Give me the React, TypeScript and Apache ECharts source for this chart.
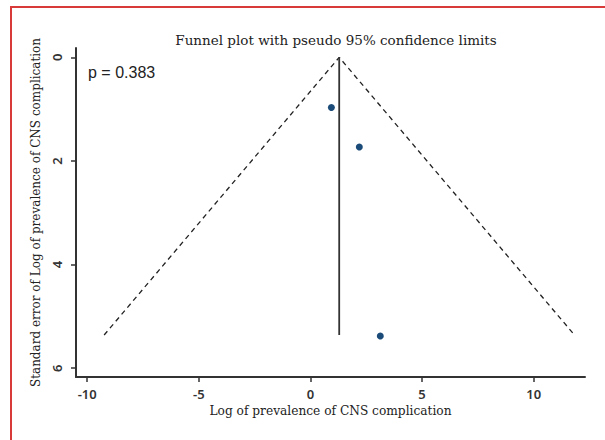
import React, { useEffect, useRef } from "react";
import * as echarts from "echarts";

// Study estimates: log prevalence and its standard error
const logPrevalence = [0.94, 2.19, 3.13];
const standardError = [0.97, 1.73, 5.38];

// Pooled (fixed-effect) estimate and pseudo 95% limits
const pooledEstimate = 1.29;
const funnelMaxSe = 5.36;
const funnelLeftX = -9.24;
const funnelRightX = 11.83;

const xTicks = [-10, -5, 0, 5, 10];
const yTicks = [0, 2, 4, 6];

const titleText = "Funnel plot with pseudo 95% confidence limits";
const xTitle = "Log of prevalence of CNS complication";
const yTitle = "Standard error of Log of prevalence of CNS complication";
const pText = "p = 0.383";

export default function App() {
  const ref = useRef<HTMLDivElement>(null);
  useEffect(() => {
    if (!ref.current) return;
    const chart = echarts.init(ref.current, null, { renderer: "svg" });
    const serif = "DejaVu Serif";
    const sans = "Noto Sans";
    chart.setOption({
      animation: false,
      backgroundColor: "#ffffff",
      title: {
        text: titleText,
        left: 331,
        top: 28,
        textAlign: "center",
        textStyle: { fontFamily: serif, fontSize: 13.5, fontWeight: "normal", color: "#222" },
      },
      grid: { left: 76, right: 20, top: 48, bottom: 63 },
      xAxis: {
        type: "value",
        min: -10.5,
        max: 12.3,
        name: xTitle,
        nameLocation: "middle",
        nameGap: 27,
        nameTextStyle: { fontFamily: serif, fontSize: 12.2, color: "#222" },
        axisLine: { show: true, onZero: false, lineStyle: { color: "#333", width: 2 } },
        axisTick: { show: true, length: 5, customValues: xTicks, lineStyle: { color: "#333", width: 1.5 } },
        axisLabel: { customValues: xTicks, margin: 10, fontFamily: sans, fontSize: 13, fontWeight: 600, color: "#333" },
        splitLine: { show: false },
      },
      yAxis: {
        type: "value",
        inverse: true,
        min: -0.18,
        max: 6.17,
        name: yTitle,
        nameLocation: "middle",
        nameRotate: 90,
        nameGap: 28,
        nameTextStyle: { fontFamily: serif, fontSize: 12, color: "#222" },
        axisLine: { show: true, onZero: false, lineStyle: { color: "#333", width: 2 } },
        axisTick: { show: true, length: 5, customValues: yTicks, lineStyle: { color: "#333", width: 1.5 } },
        axisLabel: { customValues: yTicks, rotate: 90, margin: 13, fontFamily: sans, fontSize: 13, fontWeight: 600, color: "#333" },
        splitLine: { show: false },
      },
      graphic: [
        {
          type: "rect",
          shape: { x: 11, y: 7, width: 640, height: 460 },
          style: { fill: "none", stroke: "#d83a3a", lineWidth: 2 },
          silent: true,
        },
        {
          type: "text",
          x: 88,
          y: 64,
          style: { text: pText, font: "16px 'Liberation Sans'", fill: "#222" },
        },
      ],
      series: [
        {
          type: "line",
          data: [
            [funnelLeftX, funnelMaxSe],
            [pooledEstimate, 0],
            [funnelRightX, funnelMaxSe],
          ],
          symbol: "none",
          lineStyle: { color: "#222", width: 1.3, type: [5, 4] },
        },
        {
          type: "line",
          data: [
            [pooledEstimate, 0],
            [pooledEstimate, funnelMaxSe],
          ],
          symbol: "none",
          lineStyle: { color: "#333", width: 1.8 },
        },
        {
          type: "scatter",
          data: logPrevalence.map((x, i) => [x, standardError[i]]),
          symbol: "circle",
          symbolSize: 7,
          itemStyle: { color: "#1b4b78", opacity: 1 },
        },
      ],
    });
    return () => chart.dispose();
  }, []);
  return (
    <div
      ref={ref}
      style={{ position: "fixed", left: 0, top: 0, width: 605, height: 440, background: "#fff" }}
    />
  );
}
